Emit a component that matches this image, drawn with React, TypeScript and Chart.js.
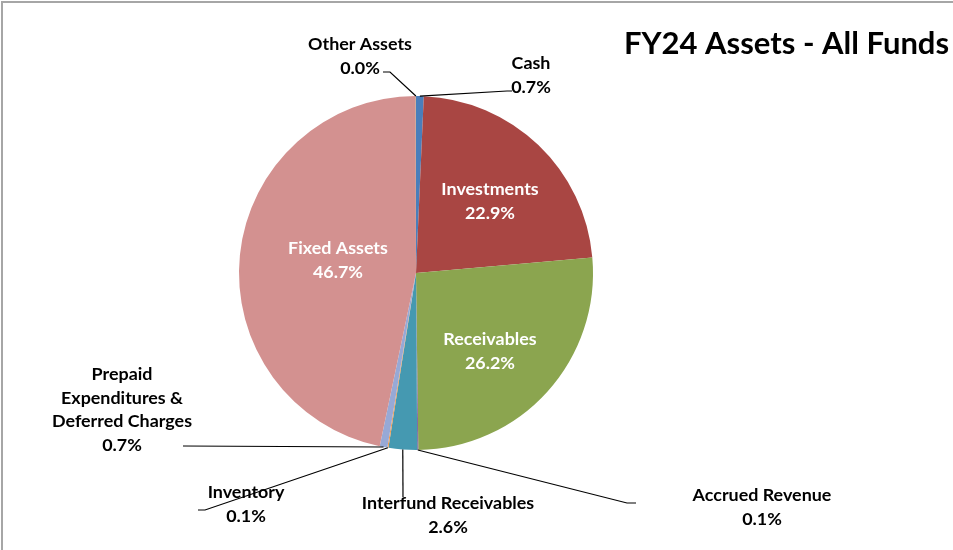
import React, { useEffect, useRef } from "react";
import { Chart, registerables } from "chart.js";

Chart.register(...registerables);

const categories = [
  "Cash",
  "Investments",
  "Receivables",
  "Accrued Revenue",
  "Interfund Receivables",
  "Inventory",
  "Prepaid Expenditures & Deferred Charges",
  "Fixed Assets",
  "Other Assets",
];
const values = [0.7, 22.9, 26.2, 0.1, 2.6, 0.1, 0.7, 46.7, 0.02];
const colors = [
  "#4A7EBB",
  "#A94643",
  "#8BA54F",
  "#7E62A0",
  "#4599B1",
  "#F59A4A",
  "#97A9D6",
  "#D39190",
  "#A9C47A",
];
const labelLines = [
  ["Cash"],
  ["Investments"],
  ["Receivables"],
  ["Accrued Revenue"],
  ["Interfund Receivables"],
  ["Inventory"],
  ["Prepaid", "Expenditures &", "Deferred Charges"],
  ["Fixed Assets"],
  ["Other Assets"],
];
const title = "FY24 Assets - All Funds";

// label layout: center x, first baseline, text colour, leader path (from text side, ending at slice edge)
const labelLayout: { x: number; y: number; color: string; leader: number[][] | null }[] = [
  { x: 531, y: 69, color: "#000", leader: [[512, 91], [507, 91]] },
  { x: 490, y: 195, color: "#fff", leader: null },
  { x: 490, y: 345, color: "#fff", leader: null },
  { x: 762, y: 501, color: "#000", leader: [[636, 503], [627, 503]] },
  { x: 448, y: 509, color: "#000", leader: [[403, 497]] },
  { x: 246, y: 498, color: "#000", leader: [[198, 510], [205, 510]] },
  { x: 122, y: 380, color: "#000", leader: [[183, 446]] },
  { x: 338, y: 254, color: "#fff", leader: null },
  { x: 360, y: 50, color: "#000", leader: [[383, 72], [390, 72]] },
];

const FONT = "Lato, 'Open Sans', sans-serif";

const labelPlugin = {
  id: "customLabels",
  beforeDraw(chart: any) {
    const ctx = chart.ctx;
    ctx.save();
    ctx.fillStyle = "#fff";
    ctx.fillRect(0, 0, chart.width, chart.height);
    ctx.strokeStyle = "#A6A6A6";
    ctx.lineWidth = 2;
    ctx.beginPath();
    ctx.moveTo(2, 550);
    ctx.lineTo(2, 2);
    ctx.lineTo(953, 2);
    ctx.stroke();
    ctx.restore();
  },
  afterDraw(chart: any) {
    const ctx = chart.ctx;
    const meta = chart.getDatasetMeta(0);
    ctx.save();
    // title
    ctx.font = `bold 31px ${FONT}`;
    ctx.fillStyle = "#000";
    ctx.textAlign = "center";
    ctx.textBaseline = "alphabetic";
    ctx.fillText(title, 786.5, 54);

    meta.data.forEach((arc: any, i: number) => {
      const p = arc.getProps(["x", "y", "startAngle", "endAngle", "outerRadius"], true);
      const mid = (p.startAngle + p.endAngle) / 2;
      const ax = p.x + Math.cos(mid) * p.outerRadius;
      const ay = p.y + Math.sin(mid) * p.outerRadius;
      const lay = labelLayout[i];
      if (lay.leader) {
        ctx.strokeStyle = "#000";
        ctx.lineWidth = 1.2;
        ctx.beginPath();
        ctx.moveTo(lay.leader[0][0], lay.leader[0][1]);
        for (let k = 1; k < lay.leader.length; k++) ctx.lineTo(lay.leader[k][0], lay.leader[k][1]);
        ctx.lineTo(ax, ay);
        ctx.stroke();
      }
      ctx.font = `bold 17.9px ${FONT}`;
      ctx.fillStyle = lay.color;
      ctx.textAlign = "center";
      const lines = [...labelLines[i], values[i].toFixed(1) + "%"];
      lines.forEach((t, k) => ctx.fillText(t, lay.x, lay.y + k * 23.5));
    });
    ctx.restore();
  },
};

export default function App() {
  const ref = useRef<HTMLCanvasElement>(null);
  useEffect(() => {
    document.body.style.margin = "0";
    const chart = new Chart(ref.current!, {
      type: "pie",
      data: {
        labels: categories,
        datasets: [
          {
            data: values,
            backgroundColor: colors,
            borderWidth: 0,
          },
        ],
      },
      options: {
        animation: false,
        responsive: false,
        layout: { padding: { left: 239, right: 360, top: 96, bottom: 100 } },
        plugins: { legend: { display: false }, tooltip: { enabled: false }, title: { display: false } },
      },
      plugins: [labelPlugin],
    });
    return () => chart.destroy();
  }, []);
  return <canvas ref={ref} width={953} height={550} style={{ display: "block" }} />;
}
